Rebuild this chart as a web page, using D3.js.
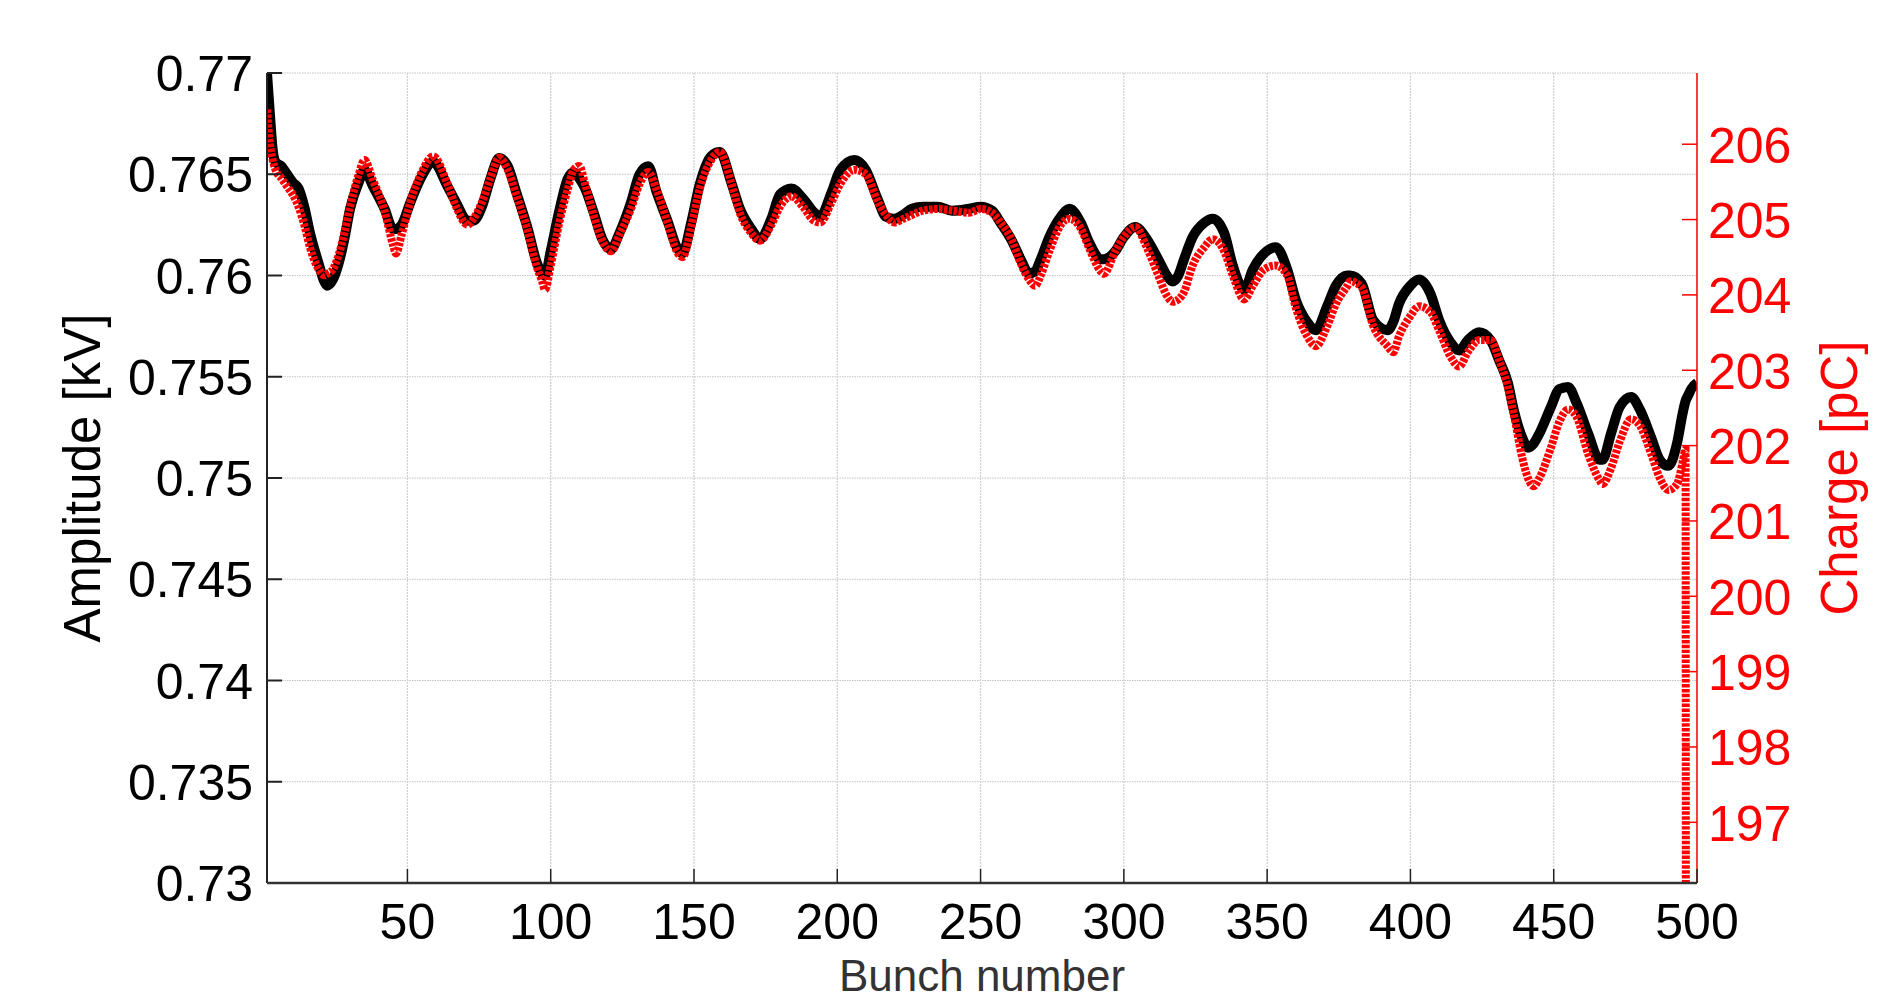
<!DOCTYPE html>
<html>
<head>
<meta charset="utf-8">
<script src="https://cdn.jsdelivr.net/npm/d3@7"></script>
<style>
  html, body { margin: 0; padding: 0; background: #fff; }
  svg { display: block; }
  text { font-family: "Liberation Sans", Arial, sans-serif; }
</style>
</head>
<body>
<svg id="chart" width="1881" height="1001"></svg>
<script>
// ---- Data ----
const bunches = [1,2,3,4,6,8,10,12,14,16,19,21,22,24,26,28,30,33,35,38,42,45,46,48,51,55,59,64,67,71,73,76,79,82,85,88,92,95,97,98,100,103,106,108,110,112,115,118,121,124,128,131,134,137,141,144,146,149,152,156,159,163,166,170,173,177,180,184,188,192,194,198,201,206,210,214,217,220,223,226,230,235,240,246,250,254,257,261,264,267,269,271,274,278,281,285,288,292,293,297,300,304,308,312,315,317,319,321,324,328,331,335,338,342,345,349,353,357,360,364,367,371,374,378,379,383,387,392,394,396,400,403,407,410,414,417,420,424,428,431,434,436,439,441,443,445,449,452,455,458,462,466,467,470,473,477,480,484,487,490,493,495,496,497,498,500];

const amplitude = [0.7700,0.7680,0.7662,0.7656,0.7654,0.7650,0.7646,0.7643,0.7634,0.7621,0.7606,0.7597,0.7595,0.7598,0.7606,0.7618,0.7633,0.7646,0.7652,0.7644,0.7633,0.7623,0.7623,0.7625,0.7636,0.7649,0.7656,0.7644,0.7636,0.7627,0.7627,0.7634,0.7648,0.7658,0.7654,0.7641,0.7623,0.7607,0.7601,0.7600,0.7612,0.7632,0.7648,0.7651,0.7648,0.7643,0.7631,0.7618,0.7613,0.7621,0.7636,0.7650,0.7654,0.7641,0.7626,0.7614,0.7611,0.7626,0.7645,0.7659,0.7661,0.7646,0.7633,0.7623,0.7618,0.7628,0.7640,0.7643,0.7638,0.7631,0.7629,0.7641,0.7652,0.7657,0.7652,0.7638,0.7629,0.7628,0.7630,0.7633,0.7634,0.7634,0.7632,0.7633,0.7634,0.7632,0.7626,0.7617,0.7608,0.7601,0.7602,0.7608,0.7619,0.7629,0.7633,0.7626,0.7616,0.7608,0.7608,0.7612,0.7619,0.7624,0.7618,0.7608,0.7600,0.7597,0.7600,0.7608,0.7619,0.7626,0.7628,0.7621,0.7605,0.7593,0.7603,0.7611,0.7614,0.7603,0.7588,0.7577,0.7573,0.7585,0.7595,0.7600,0.7600,0.7596,0.7578,0.7573,0.7577,0.7586,0.7595,0.7598,0.7591,0.7578,0.7567,0.7563,0.7568,0.7572,0.7568,0.7558,0.7547,0.7534,0.7520,0.7515,0.7517,0.7522,0.7535,0.7544,0.7545,0.7537,0.7522,0.7509,0.7509,0.7522,0.7535,0.7540,0.7534,0.7520,0.7509,0.7506,0.7517,0.7532,0.7538,0.7541,0.7544,0.7547];

const charge = [206.46,206.01,205.79,205.66,205.55,205.44,205.33,205.17,204.93,204.63,204.34,204.26,204.28,204.34,204.53,204.82,205.17,205.60,205.79,205.52,205.12,204.66,204.55,204.80,205.23,205.63,205.84,205.47,205.17,204.93,205.01,205.23,205.55,205.82,205.66,205.33,204.85,204.39,204.18,204.07,204.39,204.96,205.41,205.66,205.71,205.47,205.06,204.72,204.58,204.80,205.14,205.47,205.63,205.39,204.93,204.58,204.50,204.90,205.41,205.79,205.90,205.49,205.09,204.82,204.72,204.93,205.17,205.31,205.17,204.98,204.96,205.23,205.47,205.66,205.60,205.25,205.06,204.96,205.01,205.06,205.12,205.14,205.12,205.09,205.14,205.09,204.96,204.72,204.42,204.20,204.12,204.26,204.58,204.93,205.01,204.88,204.61,204.31,204.28,204.58,204.77,204.90,204.63,204.26,203.99,203.91,203.94,204.04,204.39,204.63,204.74,204.58,204.26,203.94,204.12,204.34,204.39,204.26,203.83,203.45,203.32,203.59,203.88,204.12,204.18,204.10,203.59,203.32,203.24,203.45,203.72,203.85,203.77,203.53,203.18,203.05,203.24,203.40,203.40,203.13,202.78,202.43,201.84,201.57,201.46,201.57,201.97,202.32,202.48,202.38,201.89,201.54,201.49,201.70,202.05,202.35,202.27,201.89,201.57,201.41,201.49,201.78,201.95,0,0,0];

const xTicks = [50,100,150,200,250,300,350,400,450,500];
const yLeftTicks = [0.73,0.735,0.74,0.745,0.75,0.755,0.76,0.765,0.77];
const yRightTicks = [197,198,199,200,201,202,203,204,205,206];

const xLabel = "Bunch number";
const yLeftLabel = "Amplitude [kV]";
const yRightLabel = "Charge [pC]";

// ---- Layout ----
const L = 267, R = 1697, T = 73, B = 883;
const svg = d3.select("#chart");
svg.append("rect").attr("width",1881).attr("height",1001).attr("fill","#fff");

const x = d3.scaleLinear().domain([1, 500]).range([L, R]);
const yL = d3.scaleLinear().domain([0.73, 0.77]).range([B, T]);
const yR = d3.scaleLinear().domain([0.73*268.76, 0.77*268.76]).range([B, T]);

// clip
svg.append("defs").append("clipPath").attr("id","plotclip")
  .append("rect").attr("x",L).attr("y",T).attr("width",R-L).attr("height",B-T);

// grid
const grid = svg.append("g");
grid.selectAll(".gy").data(yLeftTicks).join("line")
  .attr("x1",L).attr("x2",R).attr("y1",d=>yL(d)).attr("y2",d=>yL(d))
  .attr("stroke","#c4c4c4").attr("stroke-width",1.2).attr("stroke-dasharray","1.5,1");
grid.selectAll(".gx").data(xTicks).join("line")
  .attr("x1",d=>x(d)).attr("x2",d=>x(d)).attr("y1",T).attr("y2",B)
  .attr("stroke","#cfcfcf").attr("stroke-width",1.2).attr("stroke-dasharray","2,1");

// data lines
const rows = bunches.map((b,i)=>({b, a: amplitude[i], c: charge[i]}));
const plot = svg.append("g").attr("clip-path","url(#plotclip)");
plot.append("path").datum(rows)
  .attr("d", d3.line().x(d=>x(d.b)).y(d=>yL(d.a)).curve(d3.curveMonotoneX))
  .attr("fill","none").attr("stroke","#000").attr("stroke-width",10)
  .attr("stroke-linejoin","round");
plot.append("path").datum(rows)
  .attr("d", d3.line().x(d=>x(d.b)).y(d=>yR(d.c)).curve(d3.curveMonotoneX))
  .attr("fill","none").attr("stroke","#ff0000").attr("stroke-width",8)
  .attr("stroke-dasharray","3.5,1.4");

// left axis
const gL = svg.append("g");
gL.append("line").attr("x1",L).attr("x2",L).attr("y1",T).attr("y2",B)
  .attr("stroke","#222").attr("stroke-width",2);
gL.selectAll(".t").data(yLeftTicks).join("line")
  .attr("x1",L).attr("x2",L+15).attr("y1",d=>yL(d)).attr("y2",d=>yL(d))
  .attr("stroke","#222").attr("stroke-width",2);
gL.selectAll("text").data(yLeftTicks).join("text")
  .attr("x",253).attr("y",d=>yL(d)+18).attr("text-anchor","end")
  .attr("font-size",50).attr("fill","#000")
  .text(d=>String(+d.toFixed(3)));

// right axis
const gR = svg.append("g");
gR.append("line").attr("x1",R).attr("x2",R).attr("y1",T).attr("y2",B)
  .attr("stroke","#ff0000").attr("stroke-width",1.5);
gR.selectAll(".t").data(yRightTicks).join("line")
  .attr("x1",R-15).attr("x2",R).attr("y1",d=>yR(d)).attr("y2",d=>yR(d))
  .attr("stroke","#ff0000").attr("stroke-width",1.5);
gR.selectAll("text").data(yRightTicks).join("text")
  .attr("x",1708).attr("y",d=>yR(d)+18.5).attr("text-anchor","start")
  .attr("font-size",50).attr("fill","#ff0000")
  .text(d=>d);

// bottom axis
const gB = svg.append("g");
gB.append("line").attr("x1",L).attr("x2",R).attr("y1",B).attr("y2",B)
  .attr("stroke","#333").attr("stroke-width",2.5);
gB.selectAll(".t").data(xTicks).join("line")
  .attr("x1",d=>x(d)).attr("x2",d=>x(d)).attr("y1",B).attr("y2",B-14)
  .attr("stroke","#222").attr("stroke-width",1.5);
gB.selectAll("text").data(xTicks).join("text")
  .attr("x",d=>x(d)).attr("y",939).attr("text-anchor","middle")
  .attr("font-size",50).attr("fill","#000")
  .text(d=>d);

// axis labels
svg.append("text").attr("x",(L+R)/2).attr("y",991).attr("text-anchor","middle")
  .attr("font-size",44).attr("fill","#333").text(xLabel);
svg.append("text").attr("transform",`translate(100,${(T+B)/2}) rotate(-90)`)
  .attr("text-anchor","middle").attr("font-size",51).attr("fill","#000").text(yLeftLabel);
svg.append("text").attr("transform",`translate(1857,${(T+B)/2}) rotate(-90)`)
  .attr("text-anchor","middle").attr("font-size",51).attr("fill","#ff0000").text(yRightLabel);
</script>
</body>
</html>
